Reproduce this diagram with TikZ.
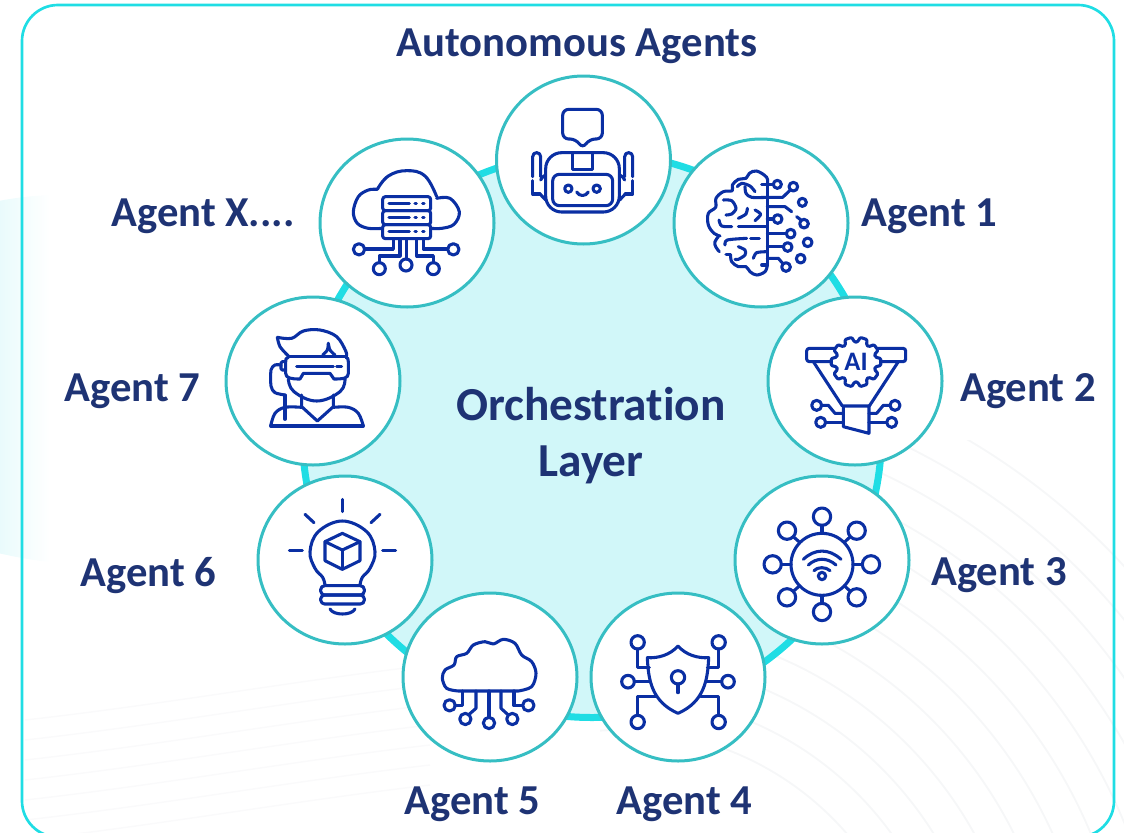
\documentclass[tikz,border=0pt]{standalone}
\usepackage{fontspec}
\setmainfont{Carlito}[Ligatures=NoCommon]
\usetikzlibrary{shapes.geometric}
\definecolor{ringc}{HTML}{1FDDE4}
\definecolor{corec}{HTML}{D1F7F9}
\definecolor{edgec}{HTML}{36BEC3}
\definecolor{iconc}{HTML}{0A2FA3}
\definecolor{textc}{HTML}{1E3374}
\definecolor{paleb}{HTML}{E3FAFB}
\definecolor{wavec}{HTML}{F6F7F8}
\definecolor{wavel}{HTML}{FAFAFB}
\tikzset{
  zoomed/.style 2 args={shift={(#1,#2)},x=.25pt,y=-.25pt},
  iconline/.style={draw=iconc,line width=2.3pt,line cap=round,line join=round},
  agentdisc/.style={ellipse,draw=edgec,fill=white,line width=2.25pt,minimum width=130.5pt,minimum height=126pt,inner sep=0pt},
  agentlabel/.style={text=textc,font=\fontsize{32}{36}\selectfont\bfseries,inner sep=0pt},
  corelabel/.style={text=textc,font=\fontsize{35.5}{40}\selectfont\bfseries,inner sep=0pt},
}
\newcommand\icring[3]{\draw (#1,#2) circle[radius=#3];}
\begin{document}
\begin{tikzpicture}[x=.75pt,y=-.75pt]
\useasboundingbox (0,0) rectangle (1124,832);
\clip (0,0) rectangle (1124,832);
% faint background
\path[left color=paleb,right color=white] (-15,204) .. controls (10,198) and (30,196) .. (50,195) -- (50,562) .. controls (30,560) and (10,556) .. (-15,550) -- cycle;
\begin{scope}
  \clip (600,440) rectangle (1124,832);
  \foreach \r in {300,335,370,405,440,475,510,545,580,615,650,685}
    \draw[wavec,line width=1.4pt] (620,1030) circle[radius=\r];
\end{scope}
\foreach \i in {0,1,...,6}
  \draw[wavel,line width=1.1pt] (25,{720+\i*20}) .. controls (160,{705+\i*20}) and (300,{680+\i*20}) .. (430,{665+\i*20});
\draw[ringc,line width=2pt,rounded corners=27pt] (22,5) rectangle (1114,837);
% core
\draw[ringc,fill=corec,line width=5.25pt] (592,435) ellipse [x radius=289.5,y radius=282.5];
% discs
\node[agentdisc] (robot) at (583.5,160) {};
\node[agentdisc] (brain) at (761,223) {};
\node[agentdisc] (funnel) at (855,381) {};
\node[agentdisc] (wifi) at (822,560) {};
\node[agentdisc] (shield) at (678,677) {};
\node[agentdisc] (cloud) at (490,677) {};
\node[agentdisc] (bulb) at (345,560) {};
\node[agentdisc] (visor) at (313,381) {};
\node[agentdisc] (server) at (407,223) {};
% labels
\node[agentlabel] (t0) at (577,46.5) {Autonomous Agents};
\node[agentlabel] (t1) at (929.5,216.5) {Agent 1};
\node[agentlabel] (t2) at (1028,391.5) {Agent 2};
\node[agentlabel] (t3) at (999,575.5) {Agent 3};
\node[agentlabel] (t4) at (684.5,804.5) {Agent 4};
\node[agentlabel] (t5) at (472.5,804.5) {Agent 5};
\node[agentlabel] (t6) at (148.5,575.5) {Agent 6};
\node[agentlabel] (t7) at (132.5,391.5) {Agent 7};
\node[agentlabel] (tx) at (203,216.5) {Agent X....};
\node[corelabel] (c1) at (591,404.5) {Orchestration};
\node[corelabel] (c2) at (591,465) {Layer};
% robot and brain
\begin{scope}[zoomed={490}{70},iconline]
  \draw[rounded corners=4.5pt] (278,118)--(337,118)--(337,207)--(298,207)--(278,236)--(258,207)--(218,207)--(218,118)--cycle;
  \draw[rounded corners=12pt] (167,248) rectangle (388,426);
  \draw (247,248)--(247,298)--(307,298)--(307,248);
  \draw[rounded corners=5pt] (188,313) rectangle (368,407);
  \icring{235}{356}{11}\icring{320}{356}{11}
  \draw (260,366) .. controls (268,380) and (287,380) .. (295,366);
  \draw (128,320)--(128,260) .. controls (128,244) and (152,244) .. (152,260)--(152,320);
  \draw (128,332)--(128,372)--(150,372);
  \draw (152,330) .. controls (158,320) and (160,318) .. (167,315);
  \draw (150,372)--(167,390);
  \draw (428,320)--(428,260) .. controls (428,244) and (404,244) .. (404,260)--(404,320);
  \draw (428,332)--(428,372)--(406,372);
  \draw (404,330) .. controls (398,320) and (396,318) .. (389,315);
  \draw (406,372)--(389,390);
  % brain
  \draw plot[smooth,tension=.6] coordinates {(832,345)(830,322)(800,303)(778,310)(768,325)(745,328)(727,345)(727,362)(700,365)(678,385)(677,412)(655,430)(655,465)(672,490)(690,498)};
  \draw plot[smooth,tension=.7] coordinates {(685,500)(675,515)(677,530)(688,545)};
  \draw plot[smooth,tension=.6] coordinates {(722,555)(725,575)(745,590)(768,590)(780,605)(800,615)(825,605)(832,585)};
  \draw (708,553)--(722,553);
  \draw (832,345)--(832,585);
  \draw plot[smooth] coordinates {(742,350)(755,340)(780,348)(795,365)};
  \draw plot[smooth] coordinates {(765,350)(768,370)(785,382)(832,382)};
  \draw (832,382)--(878,382)--(902,359);
  \icring{910}{350}{13}
  \draw (815,343)--(850,343); \icring{862}{343}{12}
  \draw plot[smooth] coordinates {(700,390)(725,392)(738,415)(725,432)(708,435)};
  \draw plot[smooth] coordinates {(772,415)(768,432)(745,445)};
  \draw plot[smooth] coordinates {(795,420)(812,433)(795,452)};
  \draw plot[smooth] coordinates {(687,450)(695,468)(725,470)};
  \draw (745,470)--(832,470);
  \draw (832,410)--(885,410)--(905,425);
  \draw (832,447)--(850,447); \icring{863}{447}{13}
  \icring{937}{397}{12}
  \draw (920,440)--(933,450); \icring{942}{461}{13}
  \draw (832,490)--(889,490); \icring{902}{491}{13}
  \draw plot[smooth] coordinates {(705,525)(712,510)(770,505)};
  \draw (782,505)--(808,505);
  \draw (832,530)--(880,530); \icring{893}{531}{13}
  \icring{953}{517}{13}
  \draw plot[smooth] coordinates {(745,530)(765,540)(765,555)(745,568)(735,568)};
  \draw plot[smooth] coordinates {(790,565)(800,548)(832,545)};
  \draw (832,565)--(865,565)--(878,580); \icring{888}{591}{13}
  \icring{932}{566}{13}
  \draw (815,585)--(832,585);
\end{scope}
% funnel and wifi
\begin{scope}[zoomed={760}{300},iconline]
  \draw[rounded corners=2pt] (140,145) rectangle (437,185);
  \draw (160,185)--(247,318);
  \draw (415,185)--(328,318);
  \draw (250,318)--(327,318)--(327,400)--(250,380)--cycle;
  \begin{scope}[shift={(288,186)}]
    \draw[fill=white,rounded corners=.8pt] (-14:60) \foreach \a in {0,36,...,324}{ -- ({\a-14}:60) -- ({\a-8}:75) -- ({\a+8}:75) -- ({\a+14}:60)} -- cycle;
  \end{scope}
  \node[text=iconc,inner sep=0pt,font=\fontsize{20}{21}\selectfont\bfseries] (aitext) at (288,187) {AI};
  \icring{170}{316}{15}
  \draw (185,316)--(205,316)--(225,340)--(250,340);
  \icring{182}{367}{15}
  \draw (197,367)--(250,367);
  \icring{405}{316}{15}
  \draw (390,316)--(370,316)--(350,340)--(327,340);
  \icring{395}{367}{15}
  \draw (380,367)--(327,367);
  % wifi
  \icring{186}{793}{93}
  \icring{186}{650}{26}\draw (186,676)--(186,700);
  \icring{186}{936}{26}\draw (186,910)--(186,886);
  \icring{38}{793}{26}\draw (64,793)--(93,793);
  \icring{333}{793}{26}\draw (307,793)--(279,793);
  \icring{81}{692}{26}\draw (100,710)--(118,726);
  \icring{290}{692}{26}\draw (271,710)--(254,726);
  \icring{81}{892}{26}\draw (100,874)--(118,858);
  \icring{290}{892}{26}\draw (271,874)--(254,858);
  \draw (130,778) .. controls (165,745) and (207,745) .. (243,778);
  \draw (145,795) .. controls (170,772) and (202,772) .. (228,795);
  \draw (162,812) .. controls (172,800) and (198,800) .. (210,812);
  \icring{186}{828}{11}
\end{scope}
% shield and cloud
\begin{scope}[zoomed={400}{590},iconline]
  \draw (834,168) .. controls (810,195) and (775,205) .. (742,203) .. controls (745,270) and (755,335) .. (834,370) .. controls (913,335) and (923,270) .. (926,203) .. controls (893,205) and (858,195) .. (834,168) -- cycle;
  \icring{834}{262}{20}\draw (834,282)--(834,308);
  \icring{713}{157}{20}\draw (713,177)--(713,233)--(748,233);
  \icring{956}{157}{20}\draw (956,177)--(956,233)--(922,233);
  \icring{684}{275}{19}\draw (703,275)--(750,275);
  \icring{984}{275}{19}\draw (965,275)--(920,275);
  \icring{713}{396}{20}\draw (713,376)--(713,320)--(768,320);
  \icring{956}{396}{20}\draw (956,376)--(956,320)--(902,320);
  % cloud
  \draw plot[smooth,tension=.55] coordinates {(175,303)(140,295)(127,265)(135,240)(162,225)(170,200)(200,190)(220,165)(255,155)(280,162)(310,148)(345,160)(365,195)(395,215)(408,250)(395,290)(355,303)} -- cycle;
  \draw (188,303)--(188,347)--(165,347); \icring{149}{346}{17}
  \draw (228,303)--(228,355)--(205,375); \icring{196}{387}{17}
  \draw (267,303)--(267,382); \icring{267}{399}{17}
  \draw (303,303)--(303,355)--(325,375); \icring{337}{387}{17}
  \draw (342,303)--(342,347)--(367,347); \icring{385}{346}{17}
\end{scope}
% server and visor
\begin{scope}[zoomed={220}{130},iconline]
  \draw plot[smooth,tension=.6] coordinates {(488,295)(445,295)(412,280)(400,245)(415,200)(445,180)(472,178)};
  \draw plot[smooth,tension=.7] coordinates {(472,178)(505,138)(560,122)(615,138)(650,200)};
  \draw plot[smooth,tension=.6] coordinates {(650,205)(690,205)(718,245)(702,283)(665,295)(632,295)};
  \draw[rounded corners=2pt] (488,200) rectangle (632,242);
  \draw[rounded corners=2pt] (488,242) rectangle (632,284);
  \draw[rounded corners=2pt] (488,284) rectangle (632,326);
  \foreach \yy in {221,263,305}{
    \draw (507,\yy)--(568,\yy);
    \draw (585,\yy)--(589,\yy);
    \draw (608,\yy)--(612,\yy);
  }
  \draw (520,326)--(520,357)--(435,357); \icring{417}{358}{17}
  \draw (540,326)--(540,378)--(478,378)--(478,398); \icring{478}{416}{18}
  \draw (560,326)--(560,387); \icring{558}{405}{18}
  \draw (590,326)--(590,378)--(640,378)--(640,398); \icring{640}{416}{18}
  \draw (610,326)--(610,357)--(682,357); \icring{700}{358}{17}
  % visor
  \draw plot[smooth,tension=.6] coordinates {(172,622)(215,625)(250,603)(300,600)(350,620)(378,665)(378,682)};
  \draw plot[smooth] coordinates {(172,622)(180,650)(205,678)};
  \draw (205,680)--(378,680);
  \draw plot[smooth] coordinates {(308,675)(322,660)(325,640)};
  \draw plot[smooth] coordinates {(325,640)(330,660)(345,675)};
  \draw (205,682) .. controls (197,682) and (197,690) .. (197,695) -- (197,730) .. controls (197,745) and (215,747) .. (240,747) -- (250,730) -- (330,730) -- (342,747) .. controls (370,747) and (385,745) .. (385,730) -- (385,695) .. controls (385,688) and (383,682) .. (378,682);
  \draw (230,710)--(340,710);
  \draw (350,710)--(365,710);
  \draw[rounded corners=1pt] (197,695)--(183,695)--(183,720)--(197,720);
  \draw plot[smooth,tension=.5] coordinates {(183,705)(165,705)(153,720)(153,768)(165,788)(195,795)};
  \draw (195,795)--(195,868);
  \draw plot[smooth,tension=.7] coordinates {(205,747)(222,785)(290,813)(360,785)(375,747)};
  \draw (245,795)--(245,830)--(292,873)--(340,830)--(340,795);
  \draw (152,888)--(430,888);
  \draw plot[smooth,tension=.6] coordinates {(152,888)(165,850)(195,832)(245,832)};
  \draw plot[smooth,tension=.6] coordinates {(340,832)(385,832)(415,850)(430,888)};
\end{scope}
% bulb
\begin{scope}[zoomed={250}{470},iconline]
  \draw (277,88)--(277,125);
  \draw (165,133)--(192,158);
  \draw (390,133)--(363,158);
  \draw (118,241)--(157,241);
  \draw (398,241)--(437,241);
  \draw plot[smooth,tension=.65] coordinates {(225,345)(218,322)(195,295)(180,245)(205,185)(277,153)(350,185)(375,245)(360,295)(337,322)(330,345)};
  \draw[rounded corners=3pt] (212,347) rectangle (343,375);
  \draw[rounded corners=3pt] (212,375) rectangle (343,402);
  \draw (240,417) .. controls (250,437) and (305,437) .. (315,417);
  \draw (277,190)--(330,215)--(330,272)--(277,298)--(225,272)--(225,215)--cycle;
  \draw (225,215)--(277,240)--(330,215);
  \draw (277,240)--(277,298);
\end{scope}
\end{tikzpicture}
\end{document}
